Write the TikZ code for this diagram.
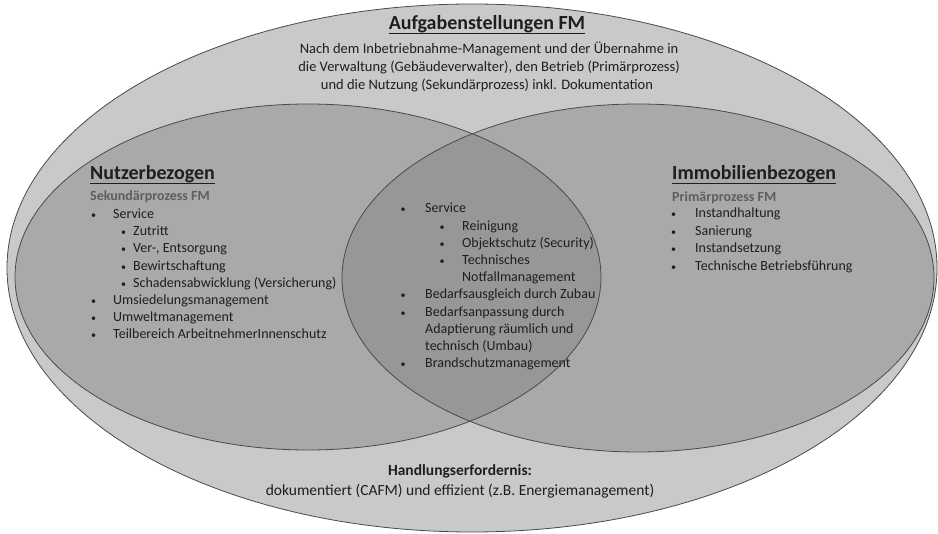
\documentclass[tikz,border=0pt]{standalone}
\usepackage{fontspec}
\setmainfont{Carlito}
\definecolor{outerfill}{HTML}{C9C9C9}
\definecolor{ellfill}{HTML}{A9A9A9}
\definecolor{lensfill}{HTML}{979797}
\definecolor{edge}{HTML}{4A4A4A}
\definecolor{ink}{HTML}{1E1E1E}
\definecolor{subink}{HTML}{5E5E5E}
\tikzset{
  txt/.style={inner sep=0pt, anchor=base west, text=ink, font=\fontsize{14}{16}\selectfont},
  para/.style={inner sep=0pt, anchor=base, text=ink, font=\fontsize{14.5}{17}\selectfont},
  head/.style={inner sep=0pt, anchor=base west, text=ink, font=\fontsize{20}{24}\selectfont\bfseries},
  subhead/.style={inner sep=0pt, anchor=base west, text=subink, font=\fontsize{14}{16}\selectfont\bfseries},
  bul/.style={inner sep=0pt, anchor=base, text=ink, font=\fontsize{10}{12}\selectfont},
  uline/.style={draw=ink, line width=1.4pt},
  rim/.style={draw=edge, line width=0.8pt},
}
\begin{document}
\begin{tikzpicture}[x=1pt, y=-1pt]
\useasboundingbox (0,0) rectangle (938,534);

% outer field
\fill[outerfill] (472,268) ellipse [x radius=465pt, y radius=264pt];
% the two overlapping process fields
\fill[ellfill] (308,277) ellipse [x radius=293pt, y radius=173pt];
\fill[ellfill] (638,278) ellipse [x radius=296pt, y radius=174pt];
\begin{scope}
  \clip (308,277) ellipse [x radius=293pt, y radius=173pt];
  \fill[lensfill] (638,278) ellipse [x radius=296pt, y radius=174pt];
\end{scope}
% outlines
\draw[rim] (472,268) ellipse [x radius=465pt, y radius=264pt];
\draw[rim] (308,277) ellipse [x radius=293pt, y radius=173pt];
\draw[rim] (638,278) ellipse [x radius=296pt, y radius=174pt];

% top block
\node[inner sep=0pt, anchor=base, text=ink, font=\fontsize{20}{24}\selectfont\bfseries] (ttl) at (487,30) {Aufgabenstellungen FM};
\draw[uline] ([yshift=-3.5pt]ttl.base west) -- ([yshift=-3.5pt]ttl.base east);
\node[para] (tp1) at (489,54) {Nach dem Inbetriebnahme-Management und der Übernahme in};
\node[para] (tp2) at (489,72) {die Verwaltung (Gebäudeverwalter), den Betrieb (Primärprozess)};
\node[para] (tp3) at (487,90) {und die Nutzung (Sekundärprozess) inkl. Dokumentation};

% left field
\node[head] (lh) at (90,180) {Nutzerbezogen};
\draw[uline] ([yshift=-3.5pt]lh.base west) -- ([yshift=-3.5pt]lh.base east);
\node[subhead] (ls) at (90,201) {Sekundärprozess FM};
\node[bul] (lb1) at (93.5,218.5) {•};
\node[txt] (l1) at (113,218.5) {Service};
\node[bul] (lb2) at (123.5,235.7) {•};
\node[txt] (l2) at (133,235.7) {Zutritt};
\node[bul] (lb3) at (123.5,252.9) {•};
\node[txt] (l3) at (133,252.9) {Ver-, Entsorgung};
\node[bul] (lb4) at (123.5,270.1) {•};
\node[txt] (l4) at (133,270.1) {Bewirtschaftung};
\node[bul] (lb5) at (123.5,287.3) {•};
\node[txt] (l5) at (133,287.3) {Schadensabwicklung (Versicherung)};
\node[bul] (lb6) at (93.5,304.5) {•};
\node[txt] (l6) at (113,304.5) {Umsiedelungsmanagement};
\node[bul] (lb7) at (93.5,321.7) {•};
\node[txt] (l7) at (113,321.7) {Umweltmanagement};
\node[bul] (lb8) at (93.5,338.9) {•};
\node[txt] (l8) at (113,338.9) {Teilbereich ArbeitnehmerInnenschutz};

% shared field
\node[bul] (mb1) at (403,213) {•};
\node[txt] (m1) at (425,213) {Service};
\node[bul] (mb2) at (442,230.2) {•};
\node[txt] (m2) at (462,230.2) {Reinigung};
\node[bul] (mb3) at (442,247.4) {•};
\node[txt] (m3) at (462,247.4) {Objektschutz (Security)};
\node[bul] (mb4) at (442,264.6) {•};
\node[txt] (m4) at (462,264.6) {Technisches};
\node[txt] (m4b) at (462,281.8) {Notfallmanagement};
\node[bul] (mb5) at (403,299) {•};
\node[txt] (m5) at (425,299) {Bedarfsausgleich durch Zubau};
\node[bul] (mb6) at (403,316.2) {•};
\node[txt] (m6) at (425,316.2) {Bedarfsanpassung durch};
\node[txt] (m6b) at (425,333.4) {Adaptierung räumlich und};
\node[txt] (m6c) at (425,350.6) {technisch (Umbau)};
\node[bul] (mb7) at (403,367.8) {•};
\node[txt] (m7) at (425,367.8) {Brandschutzmanagement};

% right field
\node[head] (rh) at (672,180) {Immobilienbezogen};
\draw[uline] ([yshift=-3.5pt]rh.base west) -- ([yshift=-3.5pt]rh.base east);
\node[subhead] (rs) at (672,201.5) {Primärprozess FM};
\node[bul] (rb1) at (673.5,218) {•};
\node[txt] (r1) at (695,218) {Instandhaltung};
\node[bul] (rb2) at (673.5,235.5) {•};
\node[txt] (r2) at (695,235.5) {Sanierung};
\node[bul] (rb3) at (673.5,253) {•};
\node[txt] (r3) at (695,253) {Instandsetzung};
\node[bul] (rb4) at (673.5,270.5) {•};
\node[txt] (r4) at (695,270.5) {Technische Betriebsführung};

% bottom block
\node[inner sep=0pt, anchor=base, text=ink, font=\fontsize{15.5}{18}\selectfont\bfseries] (bh) at (460,476) {Handlungserfordernis:};
\node[inner sep=0pt, anchor=base, text=ink, font=\fontsize{15.5}{18}\selectfont] (bt) at (460,496) {dokumentiert (CAFM) und effizient (z.B. Energiemanagement)};
\end{tikzpicture}
\end{document}
